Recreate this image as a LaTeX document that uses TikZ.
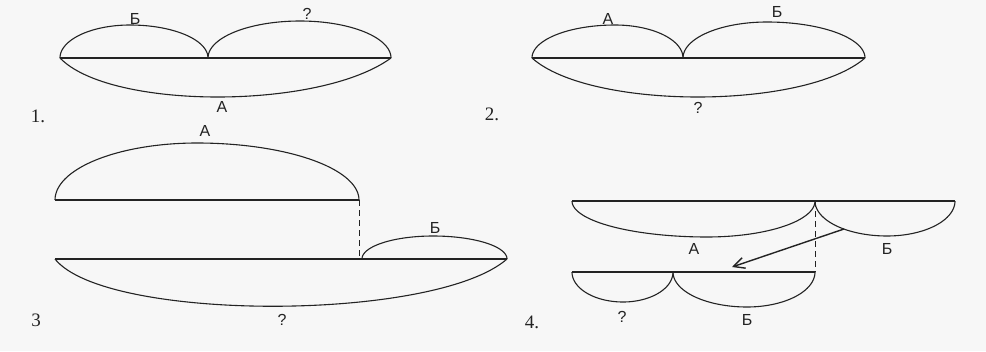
\documentclass[tikz,border=0pt]{standalone}
\usepackage{fontspec}
\setmainfont{Liberation Serif}
\newfontfamily\lblfont{Liberation Sans}
\usetikzlibrary{arrows.meta}
\definecolor{ink}{RGB}{35,35,35}
\definecolor{paper}{RGB}{247,247,247}
\newcommand{\humpc}[5]{%
  \draw[seg] plot[domain=180:270,samples=40,variable=\t] ({#2+(#2-#1)*cos(\t)},{#4+(#4-#5)*sin(\t)})
   -- plot[domain=270:360,samples=40,variable=\t] ({#2+(#3-#2)*cos(\t)},{#4+(#4-#5)*sin(\t)});}
\begin{document}
\begin{tikzpicture}[x=1pt,y=-1pt,
  seg/.style={draw=ink,line width=1.1pt,line join=round},
  guide/.style={draw=ink,line width=0.9pt,dash pattern=on 6pt off 4pt},
  lbl/.style={font=\lblfont\fontsize{16}{16}\selectfont,text=ink,inner sep=0pt},
  num/.style={font=\fontsize{19}{19}\selectfont,text=ink,inner sep=0pt},
  pointer/.style={draw=ink,line width=1.4pt,-{Straight Barb[length=11pt,width=11pt,line width=1.4pt]}}]
\fill[paper] (0,0) rectangle (986,351);
\useasboundingbox (0,0) rectangle (986,351);

% ---------- 1 ----------
\draw[seg] (60,58) -- (391,58);
\humpc{60}{130}{208}{58}{25}
\humpc{208}{300}{391}{58}{21}
\draw[seg] (60,58) .. controls (110,110) and (320,110) .. (391,58);
\node[lbl] (l1b) at (135,19) {Б};
\node[lbl] (l1q) at (307,14) {?};
\node[lbl] (l1a) at (222,107) {А};
\node[num] (n1) at (38,116) {1.};

% ---------- 2 ----------
\draw[seg] (532,58) -- (865,58);
\humpc{532}{615}{683}{58}{25}
\humpc{683}{767}{865}{58}{22}
\draw[seg] (532,58) .. controls (590,110) and (805,110) .. (865,58);
\node[lbl] (l2a) at (608,19) {А};
\node[lbl] (l2b) at (777,12) {Б};
\node[lbl] (l2q) at (698,108) {?};
\node[num] (n2) at (492,114) {2.};

% ---------- 3 ----------
\draw[seg] (55,200) -- (359,200);
\humpc{55}{197}{359}{200}{143}
\draw[guide] (359,200) -- (359,259);
\draw[seg] (55,259) -- (507,259);
\humpc{362}{433}{507}{259}{236}
\draw[seg] (55,259) .. controls (105,322) and (435,322) .. (507,259);
\node[lbl] (l3a) at (205,131) {А};
\node[lbl] (l3b) at (435,228) {Б};
\node[lbl] (l3q) at (282,320) {?};
\node[num] (n3) at (36,320) {3};

% ---------- 4 ----------
\draw[seg] (572,201) -- (955,201);
\humpc{572}{707}{815}{201}{237}
\humpc{815}{887}{955}{201}{236}
\draw[guide] (815,201) -- (815,272);
\draw[seg] (572,272) -- (815,272);
\humpc{572}{623}{673}{272}{302}
\humpc{673}{747}{815}{272}{307}
\coordinate (arrS) at (844,229);
\coordinate (arrE) at (732,267);
\draw[pointer] (arrS) -- (arrE);
\node[lbl] (l4a) at (694,249) {А};
\node[lbl] (l4b) at (887,249) {Б};
\node[lbl] (l4q) at (622,317) {?};
\node[lbl] (l4c) at (747,320) {Б};
\node[num] (n4) at (532,322) {4.};
\end{tikzpicture}
\end{document}
